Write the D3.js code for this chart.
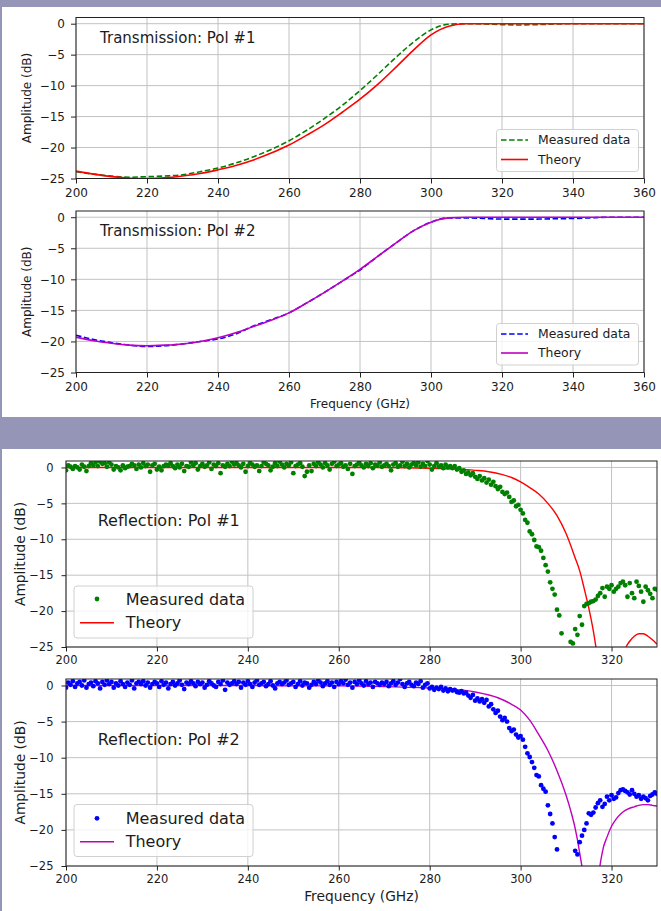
<!DOCTYPE html>
<html>
<head>
<meta charset="utf-8">
<script src="https://cdn.jsdelivr.net/npm/d3@7"></script>
<style>
  body { margin: 0; background: #9595b8; }
  svg { display: block; font-family: "DejaVu Sans", sans-serif; }
</style>
</head>
<body>
<svg id="chart" width="661" height="911"></svg>
<script>
// ---- transmission data (5 GHz steps) ----
const transFreq = [200, 205, 210, 215, 220, 225, 230, 235, 240, 245, 250, 255, 260, 265, 270, 275, 280,
  285, 290, 295, 300, 305, 310, 315, 320, 325, 330, 335, 340, 345, 350, 355, 360];
const transMeas1 = [-23.9, -24.3, -24.6, -24.8, -24.7, -24.6, -24.4, -23.9, -23.3, -22.5, -21.5, -20.3, -18.9,
  -17.2, -15.3, -13.2, -10.8, -8.2, -5.5, -3.0, -1.0, -0.1, 0, -0.05, -0.15, -0.2, -0.15, -0.05, 0, 0, 0, 0, 0];
const transTheory1 = [-23.8, -24.3, -24.7, -24.95, -25.0, -24.9, -24.6, -24.2, -23.6, -22.9, -22.0, -20.9, -19.6,
  -18.0, -16.3, -14.3, -12.2, -9.8, -7.1, -4.3, -1.8, -0.4, 0, 0, 0, 0, 0, 0, 0, 0, 0, 0, 0];
const transMeas2 = [-19.0, -19.7, -20.2, -20.6, -20.8, -20.7, -20.4, -20.0, -19.6, -18.8, -17.5, -16.5, -15.4,
  -13.8, -12.1, -10.3, -8.5, -6.3, -4.2, -2.2, -0.8, -0.1, -0.1, -0.2, -0.3, -0.3, -0.3, -0.25, -0.2, -0.1, 0, 0, 0];
const transTheory2 = [-19.3, -19.9, -20.3, -20.6, -20.7, -20.6, -20.4, -20.0, -19.4, -18.6, -17.6, -16.6, -15.4,
  -13.8, -12.1, -10.3, -8.4, -6.3, -4.2, -2.2, -0.8, -0.1, 0, 0, 0, 0, 0, 0, 0, 0, 0, 0, 0];

// ---- reflection data ----
// measured points every 0.5 GHz, 200 .. 330 (rows of 20 = 10 GHz)
const reflFreq = d3.range(0, 261).map(i => 200 + i * 0.5);
const reflMeas1 = [
  -0.4, 0.3, 0.1, -0.2, 0.2, 0.0, -0.3, 0.4, 0.1, -0.5, 0.2, 0.6, 0.3, 0.7, 0.2, 0.8, 0.5, 0.6, 0.1, 0.7,       // 200
  0.4, -0.3, 0.2, 0.0, -0.4, 0.3, -0.1, 0.1, 0.2, 0.5, 0.3, -0.2, 0.4, 0.0, 0.6, 0.2, 0.4, -0.6, 0.3, 0.5,      // 210
  -0.3, 0.1, -0.4, 0.2, 0.4, 0.3, 0.6, 0.2, -0.1, 0.4, 0.0, 0.5, -0.5, 0.2, 0.1, 0.7, 0.3, 0.6, -0.3, 0.2,      // 220
  0.5, 0.1, 0.3, 0.7, -0.2, 0.4, 0.2, 0.6, -0.8, 0.3, 0.1, 0.5, 0.2, 0.8, 0.4, 0.6, 0.3, 0.0, 0.5, -0.6,       // 230
  0.2, 0.6, 0.4, 0.1, 0.3, -0.5, 0.2, 0.7, 0.5, 0.3, -0.4, 0.1, 0.6, 0.2, 0.8, 0.4, 0.0, 0.5, 0.3, 0.7,        // 240
  -0.8, 0.2, 0.4, 0.6, 0.1, -1.2, -0.6, 0.3, -0.5, 0.5, 0.2, 0.7, 0.4, 0.0, 0.6, 0.3, -0.3, 0.5, 0.8, 0.2,     // 250
  0.4, 0.6, 0.1, 0.3, -0.2, 0.5, -0.9, 0.2, 0.4, 0.7, 0.3, 0.0, 0.5, 0.2, 0.6, -0.1, 0.4, 0.3, 0.7, 0.1,       // 260
  0.3, 0.5, 0.2, -0.4, 0.4, 0.6, 0.1, 0.3, 0.8, 0.2, 0.5, 0.0, 0.4, 0.6, 0.3, 0.7, 0.1, 0.5, 0.2, 0.9,         // 270
  0.4, -0.3, 0.2, 0.6, 0.1, 0.3, -0.1, 0.4, 0.0, 0.2, -0.1, 0.2, -0.3, -0.1, -0.6, -0.4, -0.9, -0.7, -1.1, -0.8, // 280
  -1.3, -1.6, -1.2, -1.8, -1.5, -2.1, -1.7, -2.4, -2.0, -2.6, -3.0, -2.7, -3.4, -3.7, -3.5, -4.1, -4.8, -4.6, -5.4, -5.2, // 290
  -5.9, -6.4, -7.3, -7.7, -8.9, -9.3, -10.1, -11.0, -11.1, -11.6, -12.6, -13.6, -14.5, -16.0, -16.9, -17.7, -19.8, -20.6, -23.1, -27, // 300
  -29, -26, -24.3, -24.5, -22.5, -23.3, -20.7, -21.9, -19.3, -19.0, -18.9, -18.7, -18.6, -18.4, -17.9, -17.5, -16.8, -18.0, -16.6, -16.9, // 310
  -16.4, -17.3, -16.9, -16.6, -16.1, -15.9, -16.4, -18.0, -16.1, -17.5, -18.2, -15.9, -16.5, -17.3, -18.7, -16.6, -17.1, -17.6, -18.2, -16.9, // 320
  -17.0];
const reflMeas2 = [
  -0.3, 0.4, 0.1, 0.6, -0.2, 0.3, 0.5, 0.0, 0.7, -0.3, 0.2, 0.4, -0.1, 0.6, 0.3, -0.4, 0.5, 0.1, 0.7, 0.2,      // 200
  0.5, -0.3, 0.3, 0.0, 0.6, 0.2, -0.2, 0.4, 0.1, 0.7, -0.4, 0.3, 0.5, 0.2, 0.6, 0.0, 0.4, -0.3, 0.2, 0.5,       // 210
  0.3, -0.2, 0.6, 0.1, 0.4, -0.4, 0.2, 0.5, 0.0, 0.3, 0.7, 0.1, -0.5, 0.4, 0.2, 0.6, 0.3, -0.1, 0.5, 0.2,       // 220
  0.4, -0.3, 0.1, 0.6, 0.3, 0.0, -0.2, 0.5, 0.2, 0.7, -0.6, 0.4, 0.1, 0.3, 0.6, 0.2, 0.5, -0.3, 0.4, 0.1,       // 230
  0.6, 0.2, -0.2, 0.4, 0.7, 0.1, 0.3, 0.5, -0.1, 0.2, 0.6, 0.0, -0.4, 0.3, 0.5, 0.2, 0.4, 0.7, 0.1, 0.3,        // 240
  0.5, -0.2, 0.2, 0.6, 0.0, 0.4, 0.3, -0.3, 0.1, 0.5, 0.2, 0.7, 0.4, -0.1, 0.3, 0.6, 0.1, 0.4, -0.2, 0.5,       // 250
  0.2, 0.6, 0.3, 0.8, 0.1, 0.4, -0.3, 0.5, 0.2, 0.7, 0.3, 0.0, 0.6, 0.2, 0.4, -0.2, 0.5, 0.3, 0.1, 0.4,         // 260
  0.2, 0.5, -0.1, 0.3, 0.6, 0.1, 0.4, 0.9, 0.2, -0.2, 0.3, 0.5, 0.1, -0.1, 0.4, 0.2, 0.6, -0.3, 0.1, 0.3,       // 270
  -0.4, -0.2, -0.6, -0.3, -0.5, -0.2, -0.7, -0.4, -0.8, -0.5, -0.7, -0.6, -0.9, -1.0, -0.8, -1.1, -1.0, -1.4, -1.7, -1.3, // 280
  -2.1, -1.8, -2.2, -1.9, -2.4, -2.0, -2.9, -2.6, -3.3, -3.8, -3.5, -4.3, -4.8, -4.5, -5.0, -5.9, -6.3, -6.1, -6.8, -7.2, // 290
  -7.0, -7.5, -8.5, -9.4, -9.9, -10.6, -11.4, -12.4, -12.6, -13.8, -14.3, -14.7, -16.6, -17.8, -19.1, -21.0, -22.7, -27, -30, -32, // 300
  -33, -30, -28, -26, -22.9, -23.4, -21.7, -20.8, -20.0, -19.1, -17.7, -17.9, -17.6, -16.9, -16.3, -15.9, -16.8, -16.4, -15.4, -15.9, // 310
  -15.2, -15.7, -15.5, -14.9, -14.5, -14.4, -14.6, -14.8, -15.1, -14.5, -15.0, -15.4, -15.2, -15.7, -15.4, -15.6, -15.9, -15.3, -15.1, -14.8, // 320
  -15.0];

const reflTheoryFreq1 = [200, 210, 220, 230, 240, 250, 260, 270, 280, 285, 290, 293, 296, 298, 300, 302, 304, 306, 308, 310,
  312, 313, 314, 315, 316, 317, 318, 319, 320, 321, 322, 323, 324, 325, 326, 327, 328, 329, 330];
const reflTheory1 = [0, 0, 0, 0, 0, 0, 0, 0, -0.1, -0.2, -0.4, -0.6, -1.0, -1.4, -2.0, -2.8, -3.7, -5.0, -6.7, -9.2,
  -12.6, -14.4, -16.9, -19.6, -22.8, -27, -33, -45, -60, -42, -31, -25.4, -24.2, -23.5, -23.15, -23.15, -23.5, -24.0, -24.6];
const reflTheoryFreq2 = [200, 210, 220, 230, 240, 250, 260, 270, 280, 285, 290, 295, 298, 300, 302, 304, 306, 308, 310,
  311, 312, 313, 314, 315, 316, 317, 318, 319, 320, 321, 322, 323, 324, 325, 326, 327, 328, 329, 330];
const reflTheory2 = [0, 0, 0, 0, 0, -0.05, -0.05, -0.15, -0.35, -0.5, -0.9, -1.7, -2.6, -3.4, -4.8, -6.8, -9.0, -11.8, -15.2,
  -17.3, -19.8, -23.2, -28, -40, -55, -28, -23.0, -21.0, -19.5, -18.5, -17.8, -17.3, -17.0, -16.8, -16.6, -16.5, -16.5, -16.6, -16.7];

const transXTicks = [200, 220, 240, 260, 280, 300, 320, 340, 360];
const reflXTicks = [200, 220, 240, 260, 280, 300, 320];
const yTicks = [0, -5, -10, -15, -20, -25];
const seriesNames = ['Measured data', 'Theory'];

const zip = (xs, ys) => xs.map((f, i) => ({ f: f, v: ys[i] }));

const svg = d3.select('#chart');

// white panels on the grey-purple page
svg.append('rect').attr('x', 2).attr('y', 7).attr('width', 659).attr('height', 410).attr('fill', '#fff');
svg.append('rect').attr('x', 2).attr('y', 449).attr('width', 659).attr('height', 462).attr('fill', '#fff');

const textColor = '#1c1c1c';
const minus = d => d < 0 ? '\u2212' + Math.abs(d) : String(d);

function drawPanel(p, idx) {
  const x = d3.scaleLinear().domain(p.xDomain).range([p.left, p.right]);
  const y = d3.scaleLinear().domain([-25, p.yTop]).range([p.bottom, p.top]);
  const g = svg.append('g');

  const clipId = 'clip' + idx;
  svg.append('clipPath').attr('id', clipId)
    .append('rect')
    .attr('x', p.left).attr('y', p.top)
    .attr('width', p.right - p.left).attr('height', p.bottom - p.top);

  // grid
  g.selectAll('.gx').data(p.xTicks).join('line')
    .attr('x1', d => x(d)).attr('x2', d => x(d))
    .attr('y1', p.top).attr('y2', p.bottom)
    .attr('stroke', '#c2c2c2').attr('stroke-width', 1);
  g.selectAll('.gy').data(yTicks).join('line')
    .attr('x1', p.left).attr('x2', p.right)
    .attr('y1', d => y(d)).attr('y2', d => y(d))
    .attr('stroke', '#c2c2c2').attr('stroke-width', 1);

  const plot = g.append('g').attr('clip-path', 'url(#' + clipId + ')');

  if (p.measStyle === 'dash') {
    plot.append('path').datum(p.meas)
      .attr('fill', 'none').attr('stroke', p.measColor).attr('stroke-width', 1.6)
      .attr('stroke-dasharray', '5.5,2.6')
      .attr('d', d3.line().x(d => x(d.f)).y(d => y(d.v)).curve(d3.curveMonotoneX));
  }
  plot.append('path').datum(p.theory)
    .attr('fill', 'none').attr('stroke', p.theoryColor).attr('stroke-width', p.theoryWidth)
    .attr('d', d3.line().x(d => x(d.f)).y(d => y(d.v)).curve(d3.curveMonotoneX));
  if (p.measStyle === 'dots') {
    plot.selectAll('circle').data(p.meas).join('circle')
      .attr('cx', d => x(d.f)).attr('cy', d => y(d.v)).attr('r', 2.4)
      .attr('fill', p.measColor);
  }

  // axes
  const xAxis = g.append('g').attr('transform', 'translate(0,' + p.bottom + ')')
    .call(d3.axisBottom(x).tickValues(p.xTicks).tickSize(p.tickLen).tickPadding(p.xPad).tickFormat(d3.format('d')));
  const yAxis = g.append('g').attr('transform', 'translate(' + p.left + ',0)')
    .call(d3.axisLeft(y).tickValues(yTicks).tickSize(p.tickLen).tickPadding(p.yPad).tickFormat(minus));
  [xAxis, yAxis].forEach(a => {
    a.attr('font-family', null).attr('font-size', null);
    a.select('.domain').remove();
    a.selectAll('line').attr('stroke', '#222').attr('stroke-width', 1);
    a.selectAll('text').attr('fill', textColor).style('font-size', p.tickFont + 'px');
  });

  // spines
  g.append('rect')
    .attr('x', p.left).attr('y', p.top)
    .attr('width', p.right - p.left).attr('height', p.bottom - p.top)
    .attr('fill', 'none').attr('stroke', '#222').attr('stroke-width', 1);

  // y label
  g.append('text')
    .attr('transform', 'translate(' + p.yLabelX + ',' + (p.top + p.bottom) / 2 + ') rotate(-90)')
    .attr('text-anchor', 'middle').attr('dy', '0.35em')
    .attr('fill', textColor).style('font-size', p.labelFont + 'px')
    .text('Amplitude (dB)');
  if (p.xLabelY) {
    g.append('text')
      .attr('x', (p.left + p.right) / 2).attr('y', p.xLabelY)
      .attr('text-anchor', 'middle')
      .attr('fill', textColor).style('font-size', p.labelFont + 'px')
      .text('Frequency (GHz)');
  }

  // annotation
  g.append('text')
    .attr('x', p.noteX).attr('y', p.noteY)
    .attr('fill', textColor).style('font-size', p.noteFont + 'px')
    .text(p.note);

  // legend
  const L = p.legend;
  const lg = g.append('g');
  lg.append('rect')
    .attr('x', L.x).attr('y', L.y).attr('width', L.w).attr('height', L.h).attr('rx', 3)
    .attr('fill', '#fff').attr('fill-opacity', 0.8).attr('stroke', '#d0d0d0').attr('stroke-width', 1);
  const rows = lg.selectAll('.row').data(seriesNames).join('g')
    .attr('transform', (d, i) => 'translate(0,' + L.rows[i] + ')');
  rows.each(function(d, i) {
    const r = d3.select(this);
    if (i === 0 && p.measStyle === 'dots') {
      r.append('circle').attr('cx', (L.s0 + L.s1) / 2).attr('cy', 0).attr('r', 2.4).attr('fill', p.measColor);
    } else {
      r.append('line').attr('x1', L.s0).attr('x2', L.s1).attr('y1', 0).attr('y2', 0)
        .attr('stroke', i === 0 ? p.measColor : p.theoryColor)
        .attr('stroke-width', i === 0 ? 1.6 : p.theoryWidth)
        .attr('stroke-dasharray', i === 0 ? '5.5,2.6' : null);
    }
    r.append('text').attr('x', L.tx).attr('y', 0).attr('dy', '0.35em')
      .attr('fill', textColor).style('font-size', L.font + 'px')
      .text(d);
  });
}

const panels = [
  {
    left: 76, right: 644, top: 17.5, bottom: 178.5, xDomain: [200, 360], yTop: 1, xTicks: transXTicks,
    meas: zip(transFreq, transMeas1), theory: zip(transFreq, transTheory1),
    measColor: '#008000', theoryColor: '#ff0000', measStyle: 'dash', theoryWidth: 1.6,
    tickLen: 5, xPad: 5, yPad: 6, tickFont: 12, labelFont: 12,
    yLabelX: 27, xLabelY: null,
    note: 'Transmission: Pol #1', noteX: 100, noteY: 42.5, noteFont: 15,
    legend: { x: 496.5, y: 129.5, w: 142, h: 42, rows: [140, 159.5], s0: 501, s1: 528, tx: 538, font: 12.4 }
  },
  {
    left: 76, right: 644, top: 211, bottom: 372.5, xDomain: [200, 360], yTop: 1, xTicks: transXTicks,
    meas: zip(transFreq, transMeas2), theory: zip(transFreq, transTheory2),
    measColor: '#0000ff', theoryColor: '#bf00bf', measStyle: 'dash', theoryWidth: 1.6,
    tickLen: 5, xPad: 5, yPad: 6, tickFont: 12, labelFont: 12,
    yLabelX: 27, xLabelY: 408,
    note: 'Transmission: Pol #2', noteX: 100, noteY: 236, noteFont: 15,
    legend: { x: 496.5, y: 323.5, w: 142, h: 41.5, rows: [334, 353], s0: 501, s1: 528, tx: 538, font: 12.4 }
  },
  {
    left: 66, right: 657, top: 461, bottom: 647, xDomain: [200, 330], yTop: 0.9, xTicks: reflXTicks,
    meas: zip(reflFreq, reflMeas1), theory: zip(reflTheoryFreq1, reflTheory1),
    measColor: '#008000', theoryColor: '#ff0000', measStyle: 'dots', theoryWidth: 1.4,
    tickLen: 4.5, xPad: 4, yPad: 8, tickFont: 11.5, labelFont: 13.8,
    yLabelX: 20, xLabelY: null,
    note: 'Reflection: Pol #1', noteX: 97.7, noteY: 526, noteFont: 16,
    legend: { x: 74, y: 586, w: 179, h: 52, rows: [599, 622.7], s0: 80, s1: 114, tx: 125.7, font: 16 }
  },
  {
    left: 66, right: 657, top: 679, bottom: 866, xDomain: [200, 330], yTop: 0.9, xTicks: reflXTicks,
    meas: zip(reflFreq, reflMeas2), theory: zip(reflTheoryFreq2, reflTheory2),
    measColor: '#0000ff', theoryColor: '#bf00bf', measStyle: 'dots', theoryWidth: 1.4,
    tickLen: 4.5, xPad: 4, yPad: 8, tickFont: 11.5, labelFont: 13.8,
    yLabelX: 20, xLabelY: 901,
    note: 'Reflection: Pol #2', noteX: 97.7, noteY: 744.5, noteFont: 16,
    legend: { x: 74, y: 804.5, w: 179, h: 52, rows: [818.3, 841.7], s0: 80, s1: 114, tx: 125.7, font: 16 }
  }
];

panels.forEach(drawPanel);
</script>
</body>
</html>
